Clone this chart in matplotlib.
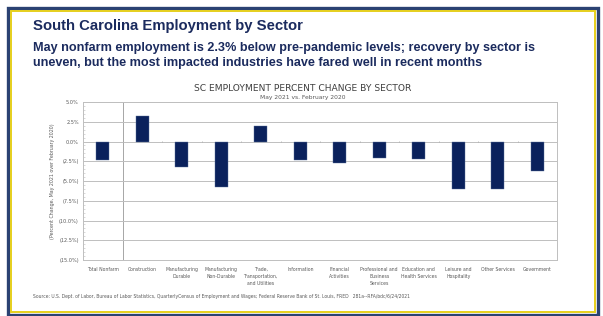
import matplotlib
matplotlib.use("Agg")
import matplotlib.pyplot as plt
from matplotlib.patches import Rectangle
import numpy as np

categories = ["Total Nonfarm", "Construction", "Manufacturing\nDurable",
              "Manufacturing\nNon-Durable", "Trade,\nTransportation,\nand Utilities",
              "Information", "Financial\nActivities", "Professional and\nBusiness\nServices",
              "Education and\nHealth Services", "Leisure and\nHospitality",
              "Other Services", "Government"]
values = [-2.3, 3.2, -3.2, -5.7, 1.9, -2.3, -2.7, -2.1, -2.2, -6.0, -6.0, -3.7]
yticks = [5.0, 2.5, 0.0, -2.5, -5.0, -7.5, -10.0, -12.5, -15.0]

W, H = 603, 316
fig = plt.figure(figsize=(W / 100, H / 100), dpi=100)
fig.patch.set_facecolor("white")

def fx(px):
    return px / W

def fy(py):
    return 1 - py / H

# frame
fig.patches.append(Rectangle((fx(8), fy(314.5)), fx(589.5), (306.5) / H, transform=fig.transFigure,
                             fill=False, edgecolor="#2b4272", linewidth=2.4, zorder=0))
fig.patches.append(Rectangle((fx(11), fy(311.5)), fx(583.5), (300.5) / H, transform=fig.transFigure,
                             fill=False, edgecolor="#e6cf1c", linewidth=1.4, zorder=0))

navy = "#1b2b5e"
fig.text(fx(33), fy(30), "South Carolina Employment by Sector", fontsize=10.75, fontweight="bold",
         color=navy, family="Liberation Sans", va="baseline", ha="left")
fig.text(fx(33), fy(50.5), "May nonfarm employment is 2.3% below pre-pandemic levels; recovery by sector is",
         fontsize=9.1, fontweight="bold", color=navy, family="Liberation Sans", va="baseline", ha="left")
fig.text(fx(33), fy(66), "uneven, but the most impacted industries have fared well in recent months",
         fontsize=9.1, fontweight="bold", color=navy, family="Liberation Sans", va="baseline", ha="left")

ax = fig.add_axes([fx(83), fy(260), fx(557 - 83), (260 - 102) / H])
x = np.arange(len(categories))
ax.bar(x, values, width=0.32, color="#0a215c", edgecolor="#5a6f9a", linewidth=0.3, zorder=3)
ax.set_xlim(-0.5, len(categories) - 0.5)
ax.set_ylim(-15, 5)
ax.set_yticks(yticks)
ax.set_yticklabels([f"{v:.1f}%" if v >= 0 else f"({abs(v):.1f}%)" for v in yticks],
                   fontsize=3.6, color="#595959")
ax.set_yticks(np.arange(-15, 5.01, 0.5), minor=True)
ax.tick_params(axis="y", which="major", length=0, pad=3)
ax.tick_params(axis="y", which="minor", direction="in", length=1.3, width=0.4, color="#bbbbbb")
ax.set_xticks(x)
ax.set_xticklabels(categories, fontsize=3.3, color="#595959", linespacing=1.5, va="top")
ax.tick_params(axis="x", length=0, pad=5)
ax.grid(axis="y", which="major", color="#bfbfbf", linewidth=0.7, zorder=0)
for s in ax.spines.values():
    s.set_color("#bfbfbf")
    s.set_linewidth(0.7)
ax.axvline(0.5, color="#a6a6a6", linewidth=0.7, zorder=1)
bounds = np.arange(0.5, len(categories) - 1, 1.0)
ax.vlines(bounds, -0.12, 0.12, color="#a6a6a6", linewidth=0.5, zorder=2)

ax.set_ylabel("(Percent Change, May 2021 over February 2020)", fontsize=3.4, color="#595959", labelpad=3)

fig.text(fx(303), fy(91), "SC EMPLOYMENT PERCENT CHANGE BY SECTOR", fontsize=6.6, color="#404040",
         ha="center", va="baseline")
fig.text(fx(303), fy(99.5), "May 2021 vs. February 2020", fontsize=4.3, color="#595959",
         ha="center", va="baseline")

fig.text(fx(33), fy(298), "Source: U.S. Dept. of Labor, Bureau of Labor Statistics, QuarterlyCensus of Employment and Wages; "
         "Federal Reserve Bank of St. Louis, FRED   281a--RFA/bdc/6/24/2021",
         fontsize=3.25, color="#595959", ha="left", va="baseline")

fig.savefig("out.png", dpi=100)
